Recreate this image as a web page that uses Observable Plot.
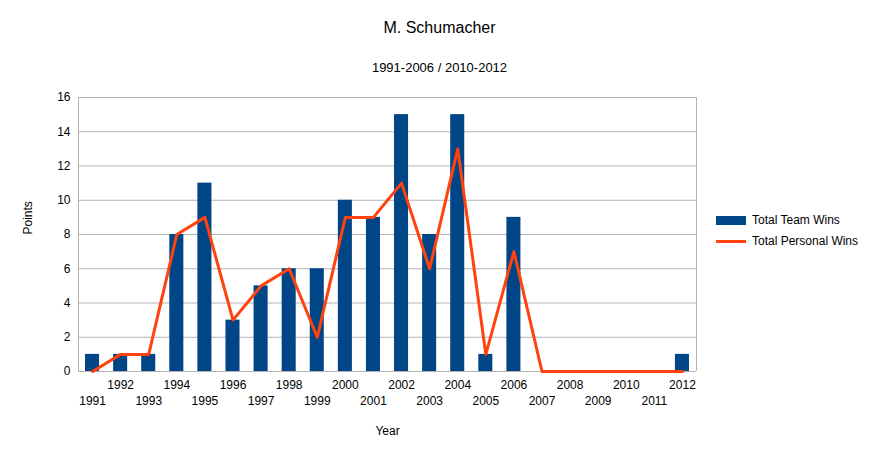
<!DOCTYPE html>
<div id="wrap" style="position:relative;width:879px;height:456px;font-family:'Liberation Sans',Arial,sans-serif;">
<div id="plot"></div>
<div style="position:absolute;top:19px;width:879px;text-align:center;font-size:16px;">M. Schumacher</div>
<div style="position:absolute;top:60px;width:879px;text-align:center;font-size:13px;">1991-2006 / 2010-2012</div>
<div style="position:absolute;left:716px;top:210px;font-size:12px;line-height:21px;">
<div><span style="display:inline-block;width:30px;height:9px;background:#004586;margin-right:6px;vertical-align:middle"></span>Total Team Wins</div>
<div><span style="display:inline-block;width:30px;height:3px;background:#ff420e;margin-right:6px;vertical-align:middle"></span>Total Personal Wins</div>
</div>
</div>
<script src="https://cdn.jsdelivr.net/npm/d3@7"></script>
<script src="https://cdn.jsdelivr.net/npm/@observablehq/plot@0.6"></script>
<script>
const years = d3.range(1991, 2013);
const teamWins = [1, 1, 1, 8, 11, 3, 5, 6, 6, 10, 9, 15, 8, 15, 1, 9, 0, 0, 0, 0, 0, 1];
const personalWins = [0, 1, 1, 8, 9, 3, 5, 6, 2, 9, 9, 11, 6, 13, 1, 7, 0, 0, 0, 0, 0, 0];
const yTicks = d3.range(0, 17, 2);

const data = years.map((y, i) => ({year: y, team: teamWins[i], personal: personalWins[i]}));

const plot = Plot.plot({
  width: 879, height: 456,
  marginLeft: 78, marginRight: 183, marginTop: 97, marginBottom: 85,
  style: {fontFamily: "'Liberation Sans', Arial, sans-serif", fontSize: "12px", background: "transparent", overflow: "visible"},
  x: {domain: [1990.5, 2012.5]},
  y: {domain: [0, 16]},
  marks: [
    Plot.ruleY(yTicks, {stroke: "#b3b3b3"}),
    Plot.ruleX([1990.5, 2012.5], {stroke: "#b3b3b3"}),
    Plot.rectY(data, {x1: d => d.year - 0.25, x2: d => d.year + 0.25, y: "team", fill: "#004586"}),
    Plot.line(data, {x: "year", y: "personal", stroke: "#ff420e", strokeWidth: 3}),
    Plot.axisY(yTicks, {tickSize: 0, tickPadding: 8, label: null, fontSize: 12}),
    Plot.axisX(years.filter(y => y % 2 === 0), {tickSize: 0, tickPadding: 9, label: null, tickFormat: d => String(d)}),
    Plot.axisX(years.filter(y => y % 2 === 1), {tickSize: 0, tickPadding: 25, label: null, tickFormat: d => String(d)}),
    Plot.text(["Year"], {frameAnchor: "bottom", dy: 63, fontSize: 12}),
    Plot.text(["Points"], {frameAnchor: "left", dx: -50, rotate: -90, fontSize: 12})
  ]
});
document.querySelector("#plot").append(plot);
</script>
<style>html,body{margin:0;}</style>
